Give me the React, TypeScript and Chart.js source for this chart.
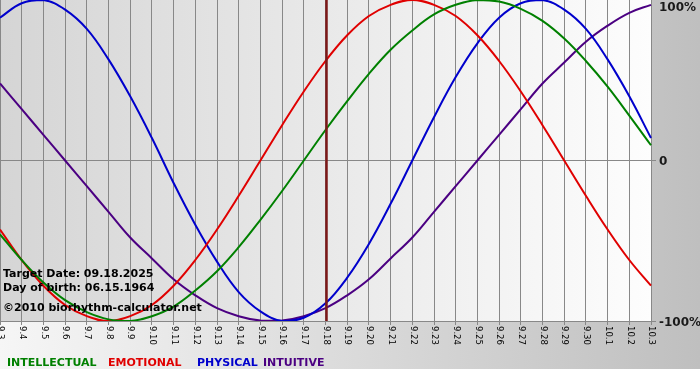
import { useEffect, useRef } from "react";
import { Chart, registerables } from "chart.js";

Chart.register(...registerables);

const days = [
  "9.3", "9.4", "9.5", "9.6", "9.7", "9.8", "9.9", "9.10", "9.11", "9.12",
  "9.13", "9.14", "9.15", "9.16", "9.17", "9.18", "9.19", "9.20", "9.21", "9.22",
  "9.23", "9.24", "9.25", "9.26", "9.27", "9.28", "9.29", "9.30", "10.1", "10.2", "10.3",
];

const intellectual = [
  -46, -62, -76, -87, -94.5, -99, -100, -97, -91, -81,
  -69, -54, -37, -19, 0, 19, 37, 54, 69, 81,
  91, 97, 100, 99, 94.5, 87, 76, 62, 46, 28, 9.5,
];
const emotional = [
  -43, -62, -78, -90, -97, -100, -97, -90, -78, -62,
  -43, -22, 0, 22, 43, 62, 78, 90, 97, 100,
  97, 90, 78, 62, 43, 22, 0, -22, -43, -62, -78,
];
const physical = [
  89, 98, 100, 94, 82, 63, 40, 14, -14, -40,
  -63, -82, -94, -100, -98, -89, -73, -52, -27, 0,
  27, 52, 73, 89, 98, 100, 94, 82, 63, 40, 14,
];
const intuitive = [
  48, 32, 16, 0, -16, -32, -48, -61, -74, -84,
  -92, -97, -99.7, -99.7, -97, -92, -84, -74, -61, -48,
  -32, -16, 0, 16, 32, 48, 61, 74, 84, 92, 97,
];

const seriesNames = ["INTELLECTUAL", "EMOTIONAL", "PHYSICAL", "INTUITIVE"];
const seriesColors = ["#008000", "#e00000", "#0000cc", "#4b0082"];
const yTickValues = [100, 0, -100];
const yTickLabels = ["100%", "0", "-100%"];
const targetDay = "9.18";
const infoLines = ["Target Date: 09.18.2025", "Day of birth: 06.15.1964", "\u00a92010 biorhythm-calculator.net"];

const FONT = "'DejaVu Sans', Verdana, sans-serif";

const bgPlugin = {
  id: "bgPlugin",
  beforeDraw(chart: any) {
    const { ctx, chartArea: a, width, height } = chart;
    ctx.save();
    let g = ctx.createLinearGradient(0, 0, width, 0);
    g.addColorStop(0, "#f6f6f6");
    g.addColorStop(1, "#bfbfbf");
    ctx.fillStyle = g;
    ctx.fillRect(0, 0, width, 369);
    ctx.fillStyle = "#ffffff";
    ctx.fillRect(0, 369, width, height - 369);
    g = ctx.createLinearGradient(a.left, 0, a.right, 0);
    g.addColorStop(0, "#d5d5d5");
    g.addColorStop(1, "#fdfdfd");
    ctx.fillStyle = g;
    ctx.fillRect(a.left, a.top, a.right - a.left, a.bottom - a.top);
    ctx.restore();
  },
};

const overlayPlugin = {
  id: "overlayPlugin",
  afterDatasetsDraw(chart: any) {
    const { ctx, chartArea: a, scales } = chart;
    const xs = scales.x;
    const ys = scales.y;
    ctx.save();
    // target day marker
    const tx = Math.round(xs.getPixelForValue(days.indexOf(targetDay))) + 0.5;
    ctx.strokeStyle = "#7d1818";
    ctx.lineWidth = 2.5;
    ctx.beginPath();
    ctx.moveTo(tx, a.top);
    ctx.lineTo(tx, a.bottom);
    ctx.stroke();

    // info text
    ctx.fillStyle = "#000000";
    ctx.font = `bold 11px ${FONT}`;
    ctx.textAlign = "left";
    ctx.textBaseline = "alphabetic";
    const baselines = [277, 291, 311];
    infoLines.forEach((t, i) => ctx.fillText(t, 3, baselines[i]));
    ctx.restore();
  },
  afterDraw(chart: any) {
    const { ctx, chartArea: a, scales } = chart;
    const xs = scales.x;
    const ys = scales.y;
    ctx.save();
    // x labels, rotated clockwise
    ctx.fillStyle = "#000000";
    ctx.font = `8.5px ${FONT}`;
    ctx.textAlign = "left";
    ctx.textBaseline = "middle";
    days.forEach((d, i) => {
      const x = xs.getPixelForValue(i);
      ctx.save();
      ctx.translate(x + 0.5, a.bottom + 5);
      ctx.rotate(Math.PI / 2);
      ctx.fillText(d, 0, 0);
      ctx.restore();
    });
    // y labels
    ctx.font = `bold 12px ${FONT}`;
    ctx.fillStyle = "#1a1a1a";
    yTickValues.forEach((v, i) => {
      const y = Math.max(ys.getPixelForValue(v), a.top + 6) + 1.5;
      ctx.fillText(yTickLabels[i], a.right + 8, y);
    });
    // legend
    ctx.font = `bold 11px ${FONT}`;
    ctx.textBaseline = "alphabetic";
    const lx = [7, 108, 197, 263];
    seriesNames.forEach((n, i) => {
      ctx.fillStyle = seriesColors[i];
      ctx.fillText(n, lx[i], 366);
    });
    ctx.restore();
  },
};

export default function App() {
  const ref = useRef<HTMLCanvasElement | null>(null);
  useEffect(() => {
    if (!ref.current) return;
    const series = [intellectual, emotional, physical, intuitive];
    const chart = new Chart(ref.current, {
      type: "line",
      data: {
        labels: days,
        datasets: series.map((s, i) => ({
          label: seriesNames[i],
          data: s,
          borderColor: seriesColors[i],
          borderWidth: 2,
          pointRadius: 0,
          tension: 0.4,
          fill: false,
        })),
      },
      options: {
        animation: false,
        responsive: false,
        devicePixelRatio: 1,
        layout: { padding: 0 },
        plugins: { legend: { display: false }, tooltip: { enabled: false } },
        scales: {
          x: {
            type: "category",
            offset: false,
            grid: { color: "#888888", lineWidth: 1, tickLength: 4, drawTicks: true },
            border: { color: "#888888" },
            ticks: { display: false, autoSkip: false },
            afterFit(s: any) {
              s.height = 59;
              s.paddingLeft = 0;
              s.paddingRight = 0;
            },
          },
          y: {
            position: "right",
            min: -100,
            max: 100,
            ticks: { display: false, stepSize: 100 },
            grid: {
              color: (c: any) => (c.tick && c.tick.value === 100 ? "rgba(0,0,0,0)" : "#888888"),
              tickLength: 5,
            },
            border: { color: "#888888" },
            afterFit(s: any) {
              s.width = 49;
              s.paddingTop = 0;
              s.paddingBottom = 0;
            },
          },
        },
      },
      plugins: [bgPlugin, overlayPlugin],
    });
    return () => chart.destroy();
  }, []);
  return (
    <div style={{ position: "fixed", left: 0, top: 0, width: 700, height: 380 }}>
      <canvas ref={ref} width={700} height={380} style={{ display: "block" }} />
    </div>
  );
}
